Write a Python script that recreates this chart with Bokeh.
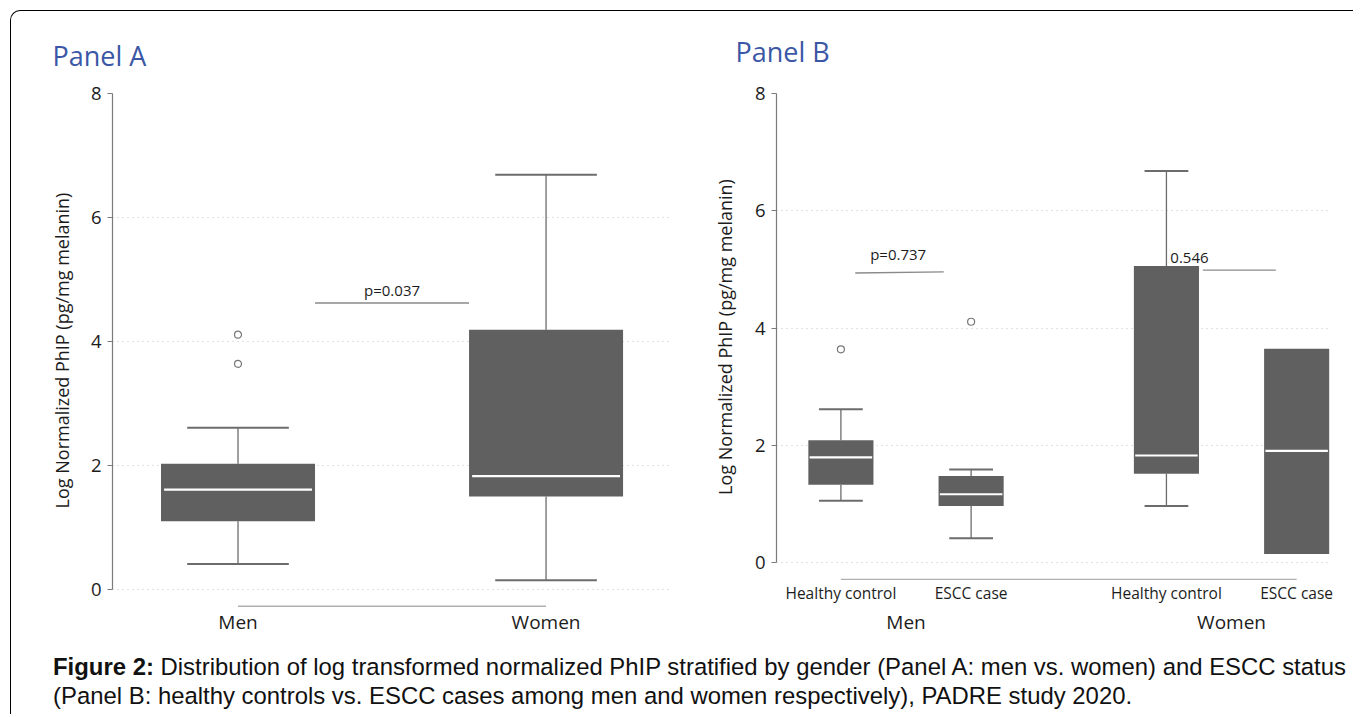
import math
from bokeh.plotting import figure
from bokeh.models import ColumnDataSource, LinearAxis, FixedTicker, Grid, Div, Range1d
from bokeh.layouts import row, column
from bokeh.embed import file_html
from bokeh.resources import INLINE
from bokeh.core.properties import value

NAN = float("nan")

# ---------------- data ----------------
# Panel A: men vs. women
a_categories = ["Men", "Women"]
a_q1 = [1.10, 1.50]
a_median = [1.61, 1.83]
a_q3 = [2.03, 4.19]
a_whisker_low = [0.41, 0.15]
a_whisker_high = [2.61, 6.69]
a_outlier_category = ["Men", "Men"]
a_outlier_value = [4.11, 3.64]
a_p_label = ["p=0.037"]

# Panel B: healthy controls vs. ESCC cases within gender
b_gender = ["Men", "Men", "Women", "Women"]
b_status = ["Healthy control", "ESCC case", "Healthy control", "ESCC case"]
b_q1 = [1.33, 0.97, 1.52, 0.15]
b_median = [1.80, 1.17, 1.83, 1.91]
b_q3 = [2.09, 1.48, 5.06, 3.65]
b_whisker_low = [1.06, 0.42, 0.97, NAN]
b_whisker_high = [2.62, 1.59, 6.68, NAN]
b_outlier_gender = ["Men", "Men"]
b_outlier_status = ["Healthy control", "ESCC case"]
b_outlier_value = [3.64, 4.11]
b_p_label = ["p=0.737", "0.546"]

y_ticks = [0, 2, 4, 6, 8]
y_title = "Log Normalized PhIP (pg/mg melanin)"
panel_titles = ["Panel A", "Panel B"]
caption_bold = "Figure 2:"
caption_line1 = " Distribution of log transformed normalized PhIP stratified by gender (Panel A: men vs. women) and ESCC status"
caption_line2 = "(Panel B: healthy controls vs. ESCC cases among men and women respectively), PADRE study 2020."

# ---------------- style ----------------
FONT = "Open Sans"
BOX = "#606060"
WHISK = "#6c6c6c"
GRID = "#c4c4c4"
AXIS = "#7a7a7a"
PLINE = "#8a8a8a"
BASE = "#b0b0b0"
TITLE = "#3b57a6"
TXT = "#1c1c1c"

# positions
a_pos = [i + 1 for i in range(len(a_categories))]
genders = []
for g in b_gender:
    if g not in genders:
        genders.append(g)
b_pos = [1 + i + 0.5 * genders.index(g) for i, g in enumerate(b_gender)]
b_group_pos = [sum(p for p, g in zip(b_pos, b_gender) if g == gg) / b_gender.count(gg) for gg in genders]


def make_fig(title, title_offset, title_standoff, fw, fh, mbl, mbr, mbt, mbb, xr, yr, label_standoff):
    p = figure(title=title, frame_width=fw, frame_height=fh, x_range=Range1d(*xr), y_range=Range1d(*yr),
               x_axis_type=None, y_axis_type=None, toolbar_location=None,
               output_backend="svg", min_border_left=mbl, min_border_right=mbr,
               min_border_top=mbt, min_border_bottom=mbb)
    p.outline_line_color = None
    p.background_fill_color = "white"
    p.border_fill_color = None
    p.title.align = "left"
    p.title.offset = title_offset
    p.title.standoff = title_standoff
    p.title.text_font = FONT
    p.title.text_font_size = "27px"
    p.title.text_font_style = "normal"
    p.title.text_color = TITLE
    yaxis = LinearAxis(ticker=FixedTicker(ticks=y_ticks), bounds=(min(y_ticks), max(y_ticks)),
                       axis_label=y_title)
    yaxis.axis_line_color = AXIS
    yaxis.axis_line_width = 1.2
    yaxis.major_tick_line_color = AXIS
    yaxis.major_tick_out = 5
    yaxis.major_tick_in = 0
    yaxis.minor_tick_out = 0
    yaxis.minor_tick_in = 0
    yaxis.major_label_text_font = FONT
    yaxis.major_label_text_font_size = "18.5px"
    yaxis.major_label_text_color = TXT
    yaxis.major_label_standoff = 6
    yaxis.axis_label_text_font = FONT
    yaxis.axis_label_text_font_size = "18px"
    yaxis.axis_label_text_font_style = "normal"
    yaxis.axis_label_text_color = TXT
    yaxis.axis_label_standoff = label_standoff
    p.add_layout(yaxis, "left")
    grid = Grid(dimension=1, ticker=FixedTicker(ticks=[t for t in y_ticks if t < max(y_ticks)]),
                grid_line_color=GRID, grid_line_dash="1 4", grid_line_width=1)
    p.add_layout(grid)
    return p


def cat_axis(p, ticks, labels, size, standoff):
    ax = LinearAxis(ticker=FixedTicker(ticks=ticks),
                    major_label_overrides={t: l for t, l in zip(ticks, labels)})
    ax.axis_line_color = None
    ax.major_tick_line_color = None
    ax.minor_tick_line_color = None
    ax.major_tick_out = 0
    ax.major_tick_in = 0
    ax.major_label_text_font = FONT
    ax.major_label_text_font_size = size
    ax.major_label_text_color = TXT
    ax.major_label_standoff = standoff
    p.add_layout(ax, "below")
    return ax


def draw_boxes(p, pos, q1, med, q3, lo, hi, box_w, cap_w):
    src = ColumnDataSource(dict(
        x=pos, q1=q1, med=med, q3=q3, lo=lo, hi=hi,
        cl=[x - cap_w / 2 for x in pos], cr=[x + cap_w / 2 for x in pos],
        bl=[x - box_w / 2 + 0.01 for x in pos], br=[x + box_w / 2 - 0.01 for x in pos]))
    p.segment(x0="x", y0="q3", x1="x", y1="hi", source=src, line_color=WHISK, line_width=1.3)
    p.segment(x0="x", y0="lo", x1="x", y1="q1", source=src, line_color=WHISK, line_width=1.3)
    p.segment(x0="cl", y0="hi", x1="cr", y1="hi", source=src, line_color=WHISK, line_width=2)
    p.segment(x0="cl", y0="lo", x1="cr", y1="lo", source=src, line_color=WHISK, line_width=2)
    p.vbar(x="x", width=box_w, bottom="q1", top="q3", source=src, fill_color=BOX, line_color=None)
    p.segment(x0="bl", y0="med", x1="br", y1="med", source=src, line_color="white", line_width=2.2)


# ---------------- Panel A ----------------
pA = make_fig(panel_titles[0], -60, 40, 558, 514, 101, 20, 82, 33, (0.5925, 2.404), (-0.29, 8), 14)
draw_boxes(pA, a_pos, a_q1, a_median, a_q3, a_whisker_low, a_whisker_high, 0.5, 0.33)
pA.scatter([a_pos[a_categories.index(c)] for c in a_outlier_category], a_outlier_value,
           marker="circle", size=7, fill_color="white", line_color="#777777", line_width=1.2)
# p-value bracket
pA.segment(x0=[a_pos[0] + 0.25], y0=[4.62], x1=[a_pos[1] - 0.25], y1=[4.62],
           line_color=PLINE, line_width=1.4)
pA.text(x=[sum(a_pos) / 2], y=[4.62], text=a_p_label, text_font=value(FONT),
        text_font_size="15px", text_color=TXT, text_align="center", text_baseline="bottom",
        y_offset=-3)
# baseline connecting groups
pA.segment(x0=[a_pos[0]], y0=[-0.27], x1=[a_pos[-1]], y1=[-0.27], line_color=BASE, line_width=1.4)
cat_axis(pA, a_pos, a_categories, "19px", 1)

# ---------------- Panel B ----------------
pB = make_fig(panel_titles[1], -41, 47, 554, 487, 86, 22, 82, 60, (0.5054, 4.76), (-0.30, 8), 15)
draw_boxes(pB, b_pos, b_q1, b_median, b_q3, b_whisker_low, b_whisker_high, 0.5, 0.336)
out_x = [b_pos[[i for i in range(len(b_gender)) if b_gender[i] == g and b_status[i] == s][0]]
         for g, s in zip(b_outlier_gender, b_outlier_status)]
pB.scatter(out_x, b_outlier_value, marker="circle", size=7, fill_color="white",
           line_color="#777777", line_width=1.2)
pB.segment(x0=[b_pos[0] + 0.11, b_pos[2] + 0.28], y0=[4.94, 4.99],
           x1=[b_pos[1] - 0.21, b_pos[3] - 0.16], y1=[4.96, 4.99],
           line_color=PLINE, line_width=1.4)
pB.text(x=[b_pos[0] + 0.44], y=[4.95], text=[b_p_label[0]], text_font=value(FONT),
        text_font_size="15px", text_color=TXT, text_align="center", text_baseline="bottom",
        y_offset=-8)
pB.text(x=[b_pos[2] + 0.03], y=[4.99], text=[b_p_label[1]], text_font=value(FONT),
        text_font_size="15px", text_color=TXT, text_align="left", text_baseline="bottom",
        y_offset=-7)
pB.segment(x0=[b_pos[0]], y0=[-0.28], x1=[b_pos[-1]], y1=[-0.28], line_color=BASE, line_width=1.4)
cat_axis(pB, b_pos, b_status, "15.5px", 1)
cat_axis(pB, b_group_pos, genders, "19px", 2)

# ---------------- caption ----------------
caption = Div(text="<b>" + caption_bold + "</b>" + caption_line1 + "<br>" + caption_line2,
              width=1300, height=62, margin=(12, 0, 0, 42),
              styles={"font-family": "'Liberation Sans', Arial, sans-serif", "font-size": "23.9px",
                      "line-height": "29px", "color": "#111111", "white-space": "nowrap"})

layout = column(row(pA, pB, margin=(-4, 0, 0, 0)), caption, margin=(10, 0, 0, 10),
                styles={"border-top": "1px solid #000000", "border-left": "1px solid #000000",
                        "border-top-left-radius": "10px"})

open("out.html", "w").write(file_html(layout, INLINE))
